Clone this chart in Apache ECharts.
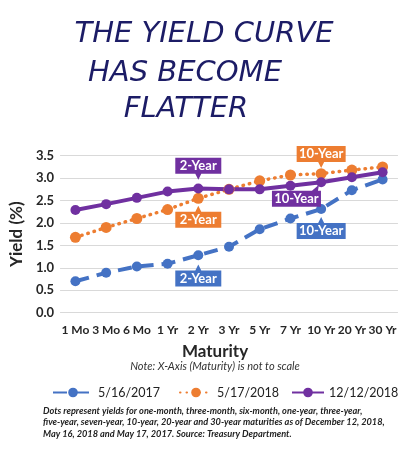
<!DOCTYPE html>
<html>
<head>
<meta charset="utf-8">
<script src="https://cdn.jsdelivr.net/npm/echarts@6/dist/echarts.min.js"></script>
<style>
  html, body { margin: 0; padding: 0; background: #fff; }
  #chart { width: 399px; height: 453px; }
</style>
</head>
<body>
<div id="chart"></div>
<script>
var maturities = ['1 Mo', '3 Mo', '6 Mo', '1 Yr', '2 Yr', '3 Yr', '5 Yr', '7 Yr', '10 Yr', '20 Yr', '30 Yr'];
var yields2017 = [0.70, 0.89, 1.03, 1.09, 1.28, 1.47, 1.86, 2.10, 2.31, 2.73, 2.97];
var yields2018May = [1.68, 1.90, 2.10, 2.30, 2.55, 2.75, 2.94, 3.07, 3.10, 3.18, 3.25];
var yields2018Dec = [2.29, 2.42, 2.56, 2.70, 2.77, 2.75, 2.75, 2.83, 2.91, 3.02, 3.13];
var yTicks = [0, 3.5, 0.5]; // min, max, step

var BLUE = '#4472C4', ORANGE = '#ED7D31', PURPLE = '#7030A0';
var FONT = 'Lato';

// callout shapes (box + pointer)
var pinDown = 'path://M0,0H46V16H26L23,22L20,16H0Z';
var pinUp = 'path://M0,6H20L23,0L26,6H46V22H0Z';
var pinUpWide = 'path://M0,6H21.5L24.5,0L27.5,6H49V22H0Z';
var pinDownWide = 'path://M0,0H49V16H27.5L24.5,22L21.5,16H0Z';
var pinUpRight = 'path://M0,6H40L47,0L46,6H49V22H0Z';

function callout(idx, values, text, symbol, w, offset, labelDy) {
    return {
        coord: [maturities[idx], values[idx]],
        symbol: symbol,
        symbolSize: [w, 22],
        symbolOffset: offset,
        label: {
            show: true,
            formatter: text,
            color: '#fff',
            fontFamily: FONT,
            fontWeight: 'bold',
            fontSize: 13,
            offset: [0, labelDy]
        }
    };
}

function legendAt(name, left, width) {
    return {
        data: [name],
        left: left,
        top: 381,
        itemWidth: width,
        itemHeight: 12,
        itemGap: 0,
        textStyle: { fontFamily: FONT, fontSize: 12.5, color: '#222' }
    };
}

var myChart = echarts.init(document.getElementById('chart'));

var titleFont = 'italic 29px "DejaVu Sans"';
var option = {
    animation: false,
    graphic: [
        { type: 'text', x: 204, y: 34, style: { text: 'THE YIELD CURVE', font: titleFont, fill: '#1c1c66', textAlign: 'center', textVerticalAlign: 'middle' } },
        { type: 'text', x: 185, y: 73, style: { text: 'HAS BECOME', font: titleFont, fill: '#1c1c66', textAlign: 'center', textVerticalAlign: 'middle' } },
        { type: 'text', x: 186, y: 109, style: { text: 'FLATTER', font: titleFont, fill: '#1c1c66', textAlign: 'center', textVerticalAlign: 'middle' } },
        { type: 'text', x: 215, y: 352, style: { text: 'Maturity', font: 'bold 17px ' + FONT, fill: '#262626', textAlign: 'center', textVerticalAlign: 'middle' } },
        { type: 'text', x: 215, y: 366, style: { text: 'Note: X-Axis (Maturity) is not to scale', font: 'italic 11px ' + FONT, fill: '#333', textAlign: 'center', textVerticalAlign: 'middle' } },
        { type: 'text', x: 43, y: 405, style: {
            text: 'Dots represent yields for one-month, three-month, six-month, one-year, three-year,\n' +
                  'five-year, seven-year, 10-year, 20-year and 30-year maturities as of December 12, 2018,\n' +
                  'May 16, 2018 and May 17, 2017. Source: Treasury Department.',
            font: 'italic bold 9.2px ' + FONT, fill: '#222', lineHeight: 11.5 } }
    ],
    legend: [
        legendAt('5/16/2017', 47, 40),
        legendAt('5/17/2018', 174, 32),
        legendAt('12/12/2018', 286, 32)
    ],
    grid: { left: 48, right: 0, top: 155.7, bottom: 140.3, containLabel: false },
    xAxis: {
        type: 'category',
        data: maturities,
        axisLine: { show: false },
        axisTick: { show: false },
        axisLabel: { interval: 0, margin: 11, color: '#262626', fontFamily: FONT, fontWeight: 'bold', fontSize: 12 }
    },
    yAxis: {
        type: 'value',
        min: yTicks[0],
        max: yTicks[1],
        interval: yTicks[2],
        name: 'Yield (%)',
        nameLocation: 'middle',
        nameGap: 31,
        nameTextStyle: { fontFamily: FONT, fontWeight: 'bold', fontSize: 17, color: '#262626' },
        axisLabel: { margin: 6, color: '#262626', fontFamily: FONT, fontWeight: 'bold', fontSize: 13,
            formatter: function (v) { return v.toFixed(1); } },
        splitLine: { lineStyle: { color: '#d9d9d9', width: 1 } }
    },
    series: [
        {
            name: '5/16/2017',
            type: 'line',
            data: yields2017,
            symbol: 'circle',
            symbolSize: 10,
            itemStyle: { color: BLUE },
            lineStyle: { color: BLUE, width: 4, type: [14, 8] },
            markPoint: {
                silent: true,
                itemStyle: { color: BLUE },
                data: [
                    callout(4, yields2017, '2-Year', pinUp, 46, [0, 20.3], 3),
                    callout(8, yields2017, '10-Year', pinUpWide, 49, [0, 19], 3)
                ]
            }
        },
        {
            name: '5/17/2018',
            type: 'line',
            data: yields2018May,
            symbol: 'circle',
            symbolSize: 11,
            itemStyle: { color: ORANGE },
            lineStyle: { color: ORANGE, width: 3.5, type: [0.5, 6], cap: 'round' },
            markPoint: {
                silent: true,
                itemStyle: { color: ORANGE },
                data: [
                    callout(4, yields2018May, '2-Year', pinUp, 46, [0, 18.4], 3),
                    callout(8, yields2018May, '10-Year', pinDownWide, 49, [0, -16.7], -3)
                ]
            }
        },
        {
            name: '12/12/2018',
            type: 'line',
            data: yields2018Dec,
            symbol: 'circle',
            symbolSize: 10,
            itemStyle: { color: PURPLE },
            lineStyle: { color: PURPLE, width: 4 },
            markPoint: {
                silent: true,
                itemStyle: { color: PURPLE },
                data: [
                    callout(4, yields2018Dec, '2-Year', pinDown, 46, [0, -19.6], -3),
                    callout(8, yields2018Dec, '10-Year', pinUpRight, 49, [-24.7, 13.7], 3)
                ]
            }
        }
    ]
};

myChart.setOption(option, true);
window.onresize = myChart.resize;
</script>
</body>
</html>
